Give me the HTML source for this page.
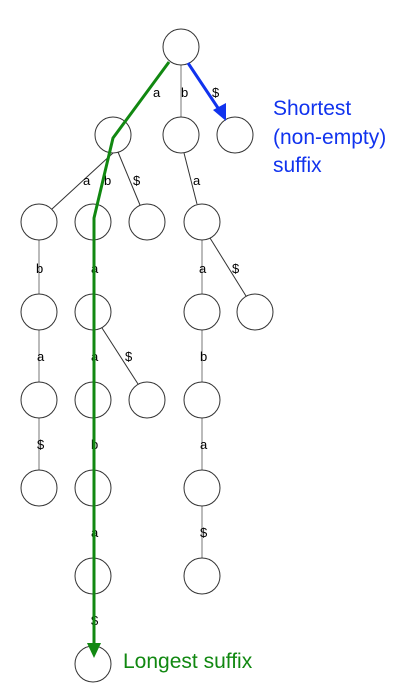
<!DOCTYPE html>
<html><head><meta charset="utf-8"><style>
body{margin:0;background:#fff}
svg{display:block}
text{font-family:"Liberation Sans",sans-serif;font-size:13px;fill:#000}
</style></head><body>
<svg width="401" height="690" viewBox="0 0 401 690">
<g stroke="#333" stroke-width="1" fill="none">
<line x1="169" y1="62" x2="125" y2="121"/>
<line x1="181" y1="65" x2="181" y2="117" stroke="#777"/>
<line x1="113" y1="153" x2="52" y2="209"/>
<line x1="118" y1="152" x2="140" y2="205"/>
<line x1="184" y1="153" x2="197" y2="204"/>
<line x1="39" y1="240" x2="39" y2="294" stroke="#777"/>
<line x1="202" y1="240" x2="202" y2="294" stroke="#777"/>
<line x1="210" y1="238" x2="246" y2="296"/>
<line x1="39" y1="330" x2="39" y2="382" stroke="#777"/>
<line x1="202" y1="330" x2="202" y2="382" stroke="#777"/>
<line x1="102" y1="328" x2="138" y2="384"/>
<line x1="39" y1="418" x2="39" y2="470" stroke="#777"/>
<line x1="202" y1="418" x2="202" y2="470" stroke="#777"/>
<line x1="202" y1="506" x2="202" y2="558" stroke="#777"/>
<circle cx="181" cy="47" r="18" fill="#fff"/>
<circle cx="113" cy="135" r="18" fill="#fff"/>
<circle cx="181" cy="135" r="18" fill="#fff"/>
<circle cx="235" cy="135" r="18" fill="#fff"/>
<circle cx="39" cy="222" r="18" fill="#fff"/>
<circle cx="93" cy="222" r="18" fill="#fff"/>
<circle cx="147" cy="222" r="18" fill="#fff"/>
<circle cx="202" cy="222" r="18" fill="#fff"/>
<circle cx="39" cy="312" r="18" fill="#fff"/>
<circle cx="93" cy="312" r="18" fill="#fff"/>
<circle cx="202" cy="312" r="18" fill="#fff"/>
<circle cx="255" cy="312" r="18" fill="#fff"/>
<circle cx="39" cy="400" r="18" fill="#fff"/>
<circle cx="93" cy="400" r="18" fill="#fff"/>
<circle cx="147" cy="400" r="18" fill="#fff"/>
<circle cx="202" cy="400" r="18" fill="#fff"/>
<circle cx="39" cy="488" r="18" fill="#fff"/>
<circle cx="93" cy="488" r="18" fill="#fff"/>
<circle cx="202" cy="488" r="18" fill="#fff"/>
<circle cx="93" cy="576" r="18" fill="#fff"/>
<circle cx="202" cy="576" r="18" fill="#fff"/>
<circle cx="93" cy="664" r="18" fill="#fff"/>
</g>
<text x="153" y="97">a</text>
<text x="181" y="97">b</text>
<text x="212" y="97">$</text>
<text x="83" y="185">a</text>
<text x="104" y="185">b</text>
<text x="133" y="185">$</text>
<text x="193" y="185">a</text>
<text x="36" y="273">b</text>
<text x="91" y="273">a</text>
<text x="199" y="273">a</text>
<text x="232" y="273">$</text>
<text x="37" y="361">a</text>
<text x="91" y="361">a</text>
<text x="125" y="361">$</text>
<text x="200" y="361">b</text>
<text x="37" y="449">$</text>
<text x="91" y="449">b</text>
<text x="200" y="449">a</text>
<text x="91" y="537">a</text>
<text x="200" y="537">$</text>
<text x="91" y="625">$</text>
<polyline points="169,62 113,138 94,218 94,645" fill="none" stroke="#118811" stroke-width="3"/>
<polygon points="87,643 101,643 94,658" fill="#118811"/>
<line x1="188" y1="63" x2="220" y2="111" stroke="#1133ee" stroke-width="3"/>
<polygon points="213,110 226,103 226,121" fill="#1133ee"/>
<text x="273" y="115" style="fill:#1133ee;font-size:21px">Shortest</text>
<text x="273" y="144" style="fill:#1133ee;font-size:21px">(non-empty)</text>
<text x="273" y="172" style="fill:#1133ee;font-size:21px">suffix</text>
<text x="123" y="668" style="fill:#118811;font-size:21px">Longest suffix</text>
</svg>
</body></html>
